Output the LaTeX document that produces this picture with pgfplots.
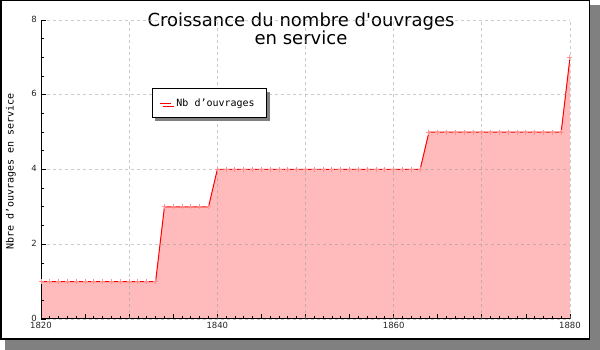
\documentclass[border=0pt]{standalone}
\usepackage{pgfplots}
\pgfplotsset{compat=1.18}
\usepackage{fontspec}
\setmainfont{DejaVu Sans}
\newfontfamily\titlefont{DejaVu Sans}[Ligatures=TeXOff]
\newfontfamily\mono{DejaVu Sans Mono}
\usetikzlibrary{shadows}
\definecolor{areafill}{HTML}{FFBBBB}
\definecolor{markc}{HTML}{FF9090}
\definecolor{shadowc}{HTML}{808080}
\begin{document}
\begin{tikzpicture}[x=1pt,y=1pt]
\useasboundingbox (0,0) rectangle (600,350);
\fill[shadowc] (5,0) rectangle (600,345);
\draw[fill=white,line width=1.5pt] (0.75,10.75) rectangle (589.25,349.25);
\node[font=\titlefont\fontsize{18}{18}\selectfont,anchor=base] at (301,323) {Croissance du nombre d'ouvrages};
\node[font=\titlefont\fontsize{18}{18}\selectfont,anchor=base] at (301,305) {en service};
\node[font=\mono\fontsize{10}{10}\selectfont,rotate=90] at (11,178.5) {Nbre d’ouvrages en service};
\begin{axis}[
  at={(41pt,31pt)}, anchor=south west,
  width=529pt, height=299pt, scale only axis,
  xmin=1820, xmax=1880, ymin=0, ymax=8,
  axis lines*=left,
  axis line style={line width=1pt,-},
  axis on top,
  xtick={1820,1825,...,1880},
  xticklabels={1820,,,,1840,,,,1860,,,,1880},
  minor x tick num=4,
  ytick={0,2,4,6,8},
  minor y tick num=3,
  major tick length=5pt, minor tick length=3pt,
  tick style={black,line width=0.8pt},
  tick align=inside,
  ymajorgrids,
  extra x ticks={1830,1840,1850,1860,1870,1880},
  extra x tick labels={},
  extra x tick style={xmajorgrids, major tick length=0pt},
  grid style={black!40, opacity=0.5, dash pattern=on 3pt off 3pt, line width=0.8pt},
  /pgf/number format/assume math mode=true,
  xticklabel style={font=\fontsize{8.5}{8.5}\selectfont, text=black!85, /pgf/number format/1000 sep={}, inner sep=1pt, yshift=-2pt},
  yticklabel style={font=\fontsize{8.5}{8.5}\selectfont, text=black!85, inner sep=1pt, xshift=-3pt, yshift=1pt},
  scaled ticks=false,
  legend style={at={(0.2098,0.772)}, anchor=north west, draw=black, line width=1pt,
    font=\mono\fontsize{10}{10}\selectfont, inner xsep=7pt, inner ysep=8pt,
    drop shadow={shadow xshift=3pt, shadow yshift=-3pt, fill=shadowc, opacity=1},
    legend cell align=left, nodes={inner xsep=5pt}},
  legend image code/.code={\draw[red,line width=1pt] (0pt,0pt) -- (11pt,0pt); \node[markc,inner sep=0pt] at (5.5pt,0pt) {\pgfuseplotmark{+}};},
]
\addplot[fill=areafill, draw=none, forget plot] coordinates {
(1820,1)(1821,1)(1822,1)(1823,1)(1824,1)(1825,1)(1826,1)(1827,1)(1828,1)(1829,1)
(1830,1)(1831,1)(1832,1)(1833,1)(1834,3)(1835,3)(1836,3)(1837,3)(1838,3)(1839,3)
(1840,4)(1841,4)(1842,4)(1843,4)(1844,4)(1845,4)(1846,4)(1847,4)(1848,4)(1849,4)
(1850,4)(1851,4)(1852,4)(1853,4)(1854,4)(1855,4)(1856,4)(1857,4)(1858,4)(1859,4)
(1860,4)(1861,4)(1862,4)(1863,4)(1864,5)(1865,5)(1866,5)(1867,5)(1868,5)(1869,5)
(1870,5)(1871,5)(1872,5)(1873,5)(1874,5)(1875,5)(1876,5)(1877,5)(1878,5)(1879,5)
(1880,7)} \closedcycle;
\addplot[red, line width=1pt, mark=+, mark size=2.5pt, mark options={markc, line width=1pt}] coordinates {
(1820,1)(1821,1)(1822,1)(1823,1)(1824,1)(1825,1)(1826,1)(1827,1)(1828,1)(1829,1)
(1830,1)(1831,1)(1832,1)(1833,1)(1834,3)(1835,3)(1836,3)(1837,3)(1838,3)(1839,3)
(1840,4)(1841,4)(1842,4)(1843,4)(1844,4)(1845,4)(1846,4)(1847,4)(1848,4)(1849,4)
(1850,4)(1851,4)(1852,4)(1853,4)(1854,4)(1855,4)(1856,4)(1857,4)(1858,4)(1859,4)
(1860,4)(1861,4)(1862,4)(1863,4)(1864,5)(1865,5)(1866,5)(1867,5)(1868,5)(1869,5)
(1870,5)(1871,5)(1872,5)(1873,5)(1874,5)(1875,5)(1876,5)(1877,5)(1878,5)(1879,5)
(1880,7)};
\addlegendentry{Nb d’ouvrages}
\end{axis}
\end{tikzpicture}
\end{document}
